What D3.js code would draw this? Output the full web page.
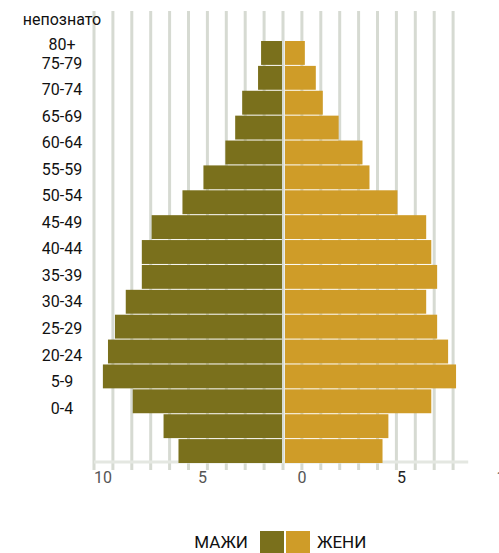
<!DOCTYPE html>
<html>
<head>
<meta charset="utf-8">
<script src="https://cdn.jsdelivr.net/npm/d3@7"></script>
<style>
  body { margin: 0; background: #fff; }
  text { font-family: Roboto, 'Noto Sans', sans-serif; }
</style>
</head>
<body>
<div id="chart"></div>
<script>
/* globals d3 */

let ageLabels = ['непознато', '80+', '75-79', '70-74', '65-69', '60-64', '55-59', '50-54',
  '45-49', '40-44', '35-39', '30-34', '25-29', '20-24', '5-9', '0-4']

// one value per bar row, top to bottom (percent)
let men = [1.16, 1.32, 2.16, 2.53, 3.05, 4.21, 5.32, 6.95, 7.47, 7.47, 8.32, 8.89, 9.26, 9.53, 7.95, 6.32, 5.53]
let women = [1.05, 1.63, 2.0, 2.84, 4.1, 4.47, 5.95, 7.47, 7.74, 8.05, 7.47, 8.05, 8.63, 9.05, 7.74, 5.47, 5.16]

let tickValues = [-10, -5, 0, 5, 10]
let tickText = ['10', '5', '0', '5', '1']
let legend = [{name: 'МАЖИ', color: '#7a701c'}, {name: 'ЖЕНИ', color: '#cf9c28'}]

let width = 499
let height = 553

let svg = d3.select('#chart').append('svg')
    .attr('width', width)
    .attr('height', height)

let x = d3.scaleLinear().domain([-10, 10]).range([94, 472])
let xLabel = d3.scaleLinear().domain([-10, 10]).range([103, 501])
let y = d3.scaleBand().domain(d3.range(men.length)).range([41, 463]).paddingInner(0.04)
let yLabel = d3.scaleLinear().domain([0, 1, 2, ageLabels.length - 1]).range([19, 44, 63, 408])

// grid
svg.append('g').selectAll('line')
    .data(d3.range(-10, 10))
    .enter().append('line')
      .attr('x1', (d) => x(d))
      .attr('x2', (d) => x(d))
      .attr('y1', 11)
      .attr('y2', 470)
      .attr('stroke', '#d6dad2')
      .attr('stroke-width', 3)

svg.append('line')
    .attr('x1', x(-10))
    .attr('x2', x(9.8))
    .attr('y1', 462)
    .attr('y2', 462)
    .attr('stroke', '#e4e7e1')
    .attr('stroke-width', 3)

// bars
svg.append('g').selectAll('rect')
    .data(men)
    .enter().append('rect')
      .attr('x', (d) => x(-d))
      .attr('y', (d, i) => y(i))
      .attr('width', (d) => x(0) - x(-d) - 1)
      .attr('height', y.bandwidth())
      .attr('fill', legend[0].color)

svg.append('g').selectAll('rect')
    .data(women)
    .enter().append('rect')
      .attr('x', x(0) + 2)
      .attr('y', (d, i) => y(i))
      .attr('width', (d) => x(d) - x(0))
      .attr('height', y.bandwidth())
      .attr('fill', legend[1].color)

// age labels
svg.append('g').selectAll('text')
    .data(ageLabels)
    .enter().append('text')
      .attr('x', 62)
      .attr('y', (d, i) => yLabel(i))
      .attr('dy', '0.35em')
      .attr('text-anchor', 'middle')
      .attr('font-size', 16)
      .attr('fill', '#111')
      .text((d) => d)

// tick labels
svg.append('g').selectAll('text')
    .data(tickValues)
    .enter().append('text')
      .attr('x', (d) => xLabel(d))
      .attr('y', 477)
      .attr('dy', '0.35em')
      .attr('text-anchor', 'middle')
      .attr('font-size', 16)
      .attr('fill', (d) => d === 5 ? '#222' : '#555')
      .text((d, i) => tickText[i])

// legend
let lg = svg.append('g')
lg.append('text')
    .attr('x', 248)
    .attr('y', 542)
    .attr('dy', '0.35em')
    .attr('text-anchor', 'end')
    .attr('font-size', 17)
    .attr('fill', '#111')
    .text(legend[0].name)
lg.selectAll('rect')
    .data(legend)
    .enter().append('rect')
      .attr('x', (d, i) => 260 + i * 26)
      .attr('y', 531)
      .attr('width', 24)
      .attr('height', 22)
      .attr('fill', (d) => d.color)
lg.append('text')
    .attr('x', 317)
    .attr('y', 542)
    .attr('dy', '0.35em')
    .attr('font-size', 17)
    .attr('fill', '#111')
    .text(legend[1].name)
</script>
</body>
</html>
